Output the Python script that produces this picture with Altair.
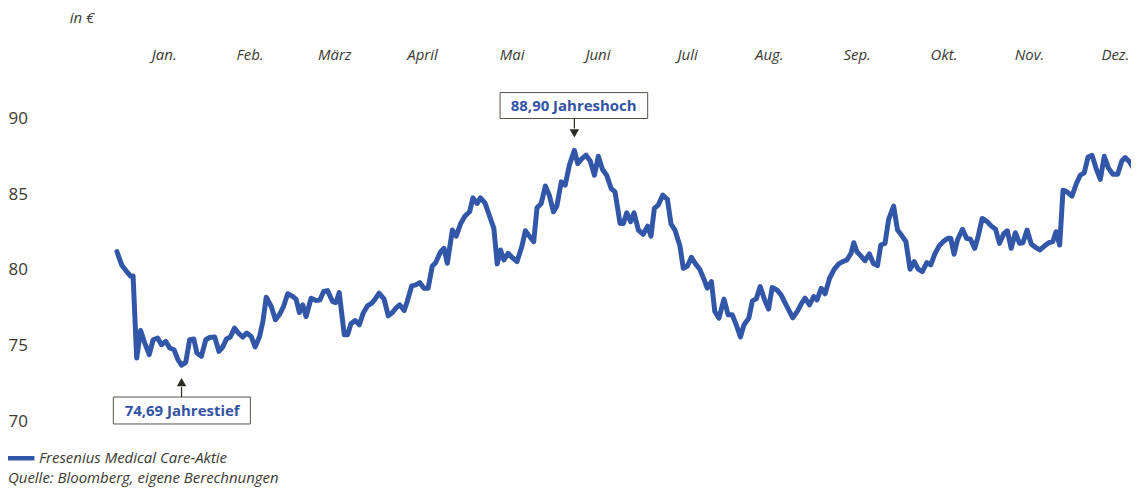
import altair as alt
import pandas as pd

# Handelstage (Tag des Jahres, 0 = Jahresbeginn) und Schlusskurse in €
tage = [
    0.0, 1.7, 3.5, 4.9, 5.8, 7.1, 8.5, 10.0, 11.6, 13.0, 14.6, 16.0, 17.5, 19.0, 20.5, 21.9, 23.2, 24.7, 26.1, 27.6,
    28.7, 30.3, 31.9, 33.3, 35.1, 36.6, 38.0, 39.3, 40.7, 42.2, 43.8, 45.2, 46.6, 48.2, 49.6, 51.2, 52.4, 53.6, 55.4, 56.9, 58.3,
    59.8, 61.3, 63.1, 64.3, 65.5, 66.7, 67.9, 69.7, 71.5, 72.9, 74.2, 75.6, 77.4, 78.6, 79.8, 81.6, 82.8, 84.0, 85.5, 87.0,
    88.4, 89.9, 91.5, 92.9, 94.1, 95.9, 97.4, 98.9, 100.1, 101.5, 103.1, 104.2, 105.8, 107.3, 108.7, 110.2, 111.7, 113.2, 114.4, 116.2, 117.4, 118.6,
    120.4, 121.8, 123.4, 124.9, 126.6, 127.8, 129.3, 130.5, 132.1, 133.5, 135.3, 136.5, 137.7, 138.9, 140.4, 141.8, 143.6, 145.4, 146.6, 148.2,
    149.6, 150.8, 152.3, 153.8, 155.2, 156.7, 157.9, 159.5, 160.9, 162.4, 164.2, 165.4, 166.9, 168.4, 169.9, 171.4, 172.8, 174.3, 175.8, 177.4, 178.8, 180.6,
    181.8, 183.0, 184.4, 185.6, 187.2, 188.9, 190.5, 191.7, 192.9, 194.3, 195.9, 197.6, 198.9, 200.3, 202.1, 203.3, 204.8, 206.2, 207.7, 209.2,
    210.7, 211.9, 213.4, 214.6, 216.1, 217.9, 219.4, 220.9, 222.3, 223.8, 225.1, 226.8, 228.1, 229.5, 230.9, 232.5, 233.9, 235.2, 236.9, 238.4, 240.2,
    242.6, 244.4, 245.8, 247.0, 248.6, 250.1, 251.3, 252.8, 254.2, 255.8, 257.5, 259.1, 260.5, 262.0, 263.5, 264.5, 265.6, 267.1, 268.5, 270.1,
    271.5, 273.0, 274.2, 275.7, 277.0, 278.8, 280.2, 281.6, 283.2, 284.7, 286.2, 287.6, 289.1, 290.7, 292.1, 293.6, 295.1, 296.9, 298.3, 299.3, 300.5, 301.7,
    303.5, 305.0, 306.4, 307.9, 309.1, 310.6, 312.4, 313.9, 315.4, 316.8, 318.4, 319.6, 321.0, 322.5, 324.0, 325.2, 326.7, 328.2, 329.7, 331.3,
    332.9, 334.5, 335.9, 337.1, 338.4, 339.6, 341.0, 342.8, 344.4, 345.8, 347.2, 348.6, 350.0, 351.5, 353.0, 354.4, 356.0, 357.5, 359.2, 360.7, 361.9, 363.5, 364.7,
]
kurse = [
    82.20, 81.32, 80.88, 80.59, 80.59, 75.16, 76.98, 76.15, 75.38, 76.37, 76.48, 76.04, 76.26, 75.82, 75.71, 75.05, 74.69, 74.87, 76.37, 76.42,
    75.49, 75.27, 76.37, 76.52, 76.55, 75.60, 75.89, 76.42, 76.55, 77.14, 76.77, 76.55, 76.81, 76.59, 75.89, 76.59, 77.58, 79.19, 78.57, 77.69, 78.02,
    78.57, 79.41, 79.23, 79.06, 78.17, 78.68, 77.91, 79.12, 78.96, 79.01, 79.56, 79.62, 78.90, 78.83, 79.49, 76.70, 76.70, 77.43, 77.64, 77.36,
    78.13, 78.61, 78.79, 79.12, 79.45, 79.06, 77.95, 78.17, 78.46, 78.68, 78.30, 78.90, 79.93, 80.00, 80.15, 79.78, 79.78, 81.25, 81.47, 82.20, 82.42, 81.43,
    83.63, 83.23, 84.07, 84.55, 84.84, 85.76, 85.39, 85.76, 85.43, 84.69, 83.74, 81.39, 82.31, 81.65, 82.09, 81.83, 81.54, 82.57, 83.58, 83.19,
    82.86, 85.10, 85.39, 86.55, 85.94, 84.84, 85.21, 86.82, 86.60, 87.92, 88.90, 88.03, 88.36, 88.58, 88.20, 87.26, 88.51, 87.64, 87.26, 86.38, 86.16, 84.07,
    84.07, 84.77, 84.18, 84.77, 83.63, 83.35, 83.89, 83.23, 85.06, 85.28, 85.94, 85.66, 84.03, 83.63, 82.57, 81.10, 81.25, 81.83, 81.39, 81.04,
    80.38, 79.78, 80.22, 78.24, 77.80, 79.06, 78.02, 78.02, 77.36, 76.55, 77.36, 77.80, 78.94, 79.08, 79.89, 79.01, 78.40, 79.82, 79.67, 79.34, 78.68,
    77.82, 78.30, 78.79, 79.12, 78.68, 79.23, 79.01, 79.78, 79.41, 80.44, 81.04, 81.39, 81.54, 81.65, 82.09, 82.79, 82.20, 81.91, 81.60, 82.05,
    81.43, 81.27, 82.64, 82.75, 84.34, 85.21, 83.63, 83.30, 82.86, 81.04, 81.54, 81.04, 80.88, 81.47, 81.32, 82.05, 82.57, 82.92, 83.08, 83.08, 82.03, 82.97,
    83.68, 83.08, 83.02, 82.42, 83.19, 84.40, 84.18, 83.89, 83.68, 82.75, 83.41, 83.58, 82.42, 83.45, 82.75, 82.79, 83.63, 82.71, 82.49, 82.31,
    82.57, 82.79, 82.86, 83.52, 82.64, 86.27, 86.16, 85.87, 86.71, 87.26, 87.41, 88.47, 88.58, 87.70, 86.98, 88.51, 87.70, 87.33, 87.33, 88.20, 88.43, 88.14, 87.77,
]
assert len(tage) == len(kurse)

monate = ["Jan.", "Feb.", "März", "April", "Mai", "Juni", "Juli", "Aug.", "Sep.", "Okt.", "Nov.", "Dez."]
monat_tag = [16.8, 47.6, 78.0, 109.5, 141.7, 172.5, 204.7, 234.0, 265.5, 296.7, 327.4, 358.2]
y_ticks = [70, 75, 80, 85, 90]

einheit = "in €"
reihe = "Fresenius Medical Care-Aktie"
quelle = "Quelle: Bloomberg, eigene Berechnungen"

BLUE = "#3257a8"
TXT = "#3b3a33"
BOX = "#55524a"
FONT = "Open Sans"

df = pd.DataFrame({"Tag": tage, "Kurs": kurse, "Reihe": reihe})

i_max = df["Kurs"].idxmax()
i_min = df["Kurs"].idxmin()


def fmt(v):
    return f"{v:.2f}".replace(".", ",")


hoch = pd.DataFrame({"Tag": [df.loc[i_max, "Tag"]], "Kurs": [df.loc[i_max, "Kurs"]],
                     "Text": [fmt(df.loc[i_max, "Kurs"]) + " Jahreshoch"]})
tief = pd.DataFrame({"Tag": [df.loc[i_min, "Tag"]], "Kurs": [df.loc[i_min, "Kurs"]],
                     "Text": [fmt(df.loc[i_min, "Kurs"]) + " Jahrestief"]})

label_expr = (
    "[" + ",".join(f"'{m}'" for m in monate) + "][indexof(["
    + ",".join(str(t) for t in monat_tag) + "], datum.value)]"
)

x_scale = alt.Scale(domain=[-28, 364], nice=False, zero=False)
y_scale = alt.Scale(domain=[70, 90], nice=False, zero=False)

x_enc = alt.X(
    "Tag:Q", scale=x_scale,
    axis=alt.Axis(orient="top", values=monat_tag, labelExpr=label_expr, ticks=False, tickSize=0,
                  domain=False, grid=False, labelPadding=79.5, labelBaseline="middle",
                  labelFlush=False, labelOverlap=False, labelFont=FONT, labelFontSize=15,
                  labelFontStyle="italic", labelColor=TXT, title=None),
)
y_enc = alt.Y(
    "Kurs:Q", scale=y_scale,
    axis=alt.Axis(values=y_ticks, ticks=False, tickSize=0, domain=False, grid=False,
                  labelAlign="left", labelPadding=31, labelOffset=-15, labelBaseline="middle",
                  labelFlush=False, labelOverlap=False, labelFont=FONT, labelFontSize=17,
                  labelColor=TXT, title=None),
)

line = alt.Chart(df).mark_line(strokeWidth=5, strokeJoin="round", strokeCap="round").encode(
    x=x_enc, y=y_enc,
    color=alt.Color("Reihe:N", scale=alt.Scale(range=[BLUE]),
                    legend=alt.Legend(orient="none", legendX=-35, legendY=308.8, title=None,
                                      symbolType="stroke", symbolStrokeWidth=4.5, symbolSize=784,
                                      labelFont=FONT, labelFontSize=15, labelFontStyle="italic",
                                      labelColor=TXT, labelOffset=2, labelLimit=0, padding=0)),
)


def annotation(data, up):
    s = -1 if up else 1
    base = alt.Chart(data).encode(x="Tag:Q", y="Kurs:Q")
    if up:
        box = base.mark_rect(fill="white", stroke=BOX, strokeWidth=1,
                             xOffset=-74.5, x2Offset=73.5, yOffset=-58, y2Offset=-32).encode(x2="Tag:Q", y2="Kurs:Q")
    else:
        box = base.mark_rect(fill="white", stroke=BOX, strokeWidth=1,
                             xOffset=-68.4, x2Offset=69, yOffset=32, y2Offset=59).encode(x2="Tag:Q", y2="Kurs:Q")
    rule = base.mark_rule(color="#2e2c22", strokeWidth=1.2, yOffset=s * 32, y2Offset=s * 22).encode(y2="Kurs:Q")
    tri = base.mark_point(shape="triangle-down" if up else "triangle-up", filled=True, size=90,
                          color="#2e2c22", opacity=1, yOffset=s * 17)
    txt = base.mark_text(font=FONT, fontSize=15, fontWeight="bold", color="#3353a4",
                         dy=(-45 if up else 46.5), dx=(-0.7 if up else 0.6)).encode(text="Text:N")
    return [box, rule, tri, txt]


def note(text, x, y):
    return alt.Chart(pd.DataFrame({"t": [text]})).mark_text(
        align="left", baseline="middle", font=FONT, fontSize=15, fontStyle="italic", color=TXT
    ).encode(x=alt.value(x), y=alt.value(y), text="t:N")


chart = alt.layer(
    line, *annotation(hoch, True), *annotation(tief, False),
    note(einheit, 31, -116.5), note(quelle, -31, 345),
).properties(
    width=1095, height=303,
    padding={"left": 31, "top": 125.5, "right": 0, "bottom": 50},
    autosize=alt.AutoSizeParams(type="none"),
).configure(font=FONT).configure_view(strokeWidth=0, stroke=None)

chart.save("out.html", embed_options={"renderer": "svg", "actions": False})
